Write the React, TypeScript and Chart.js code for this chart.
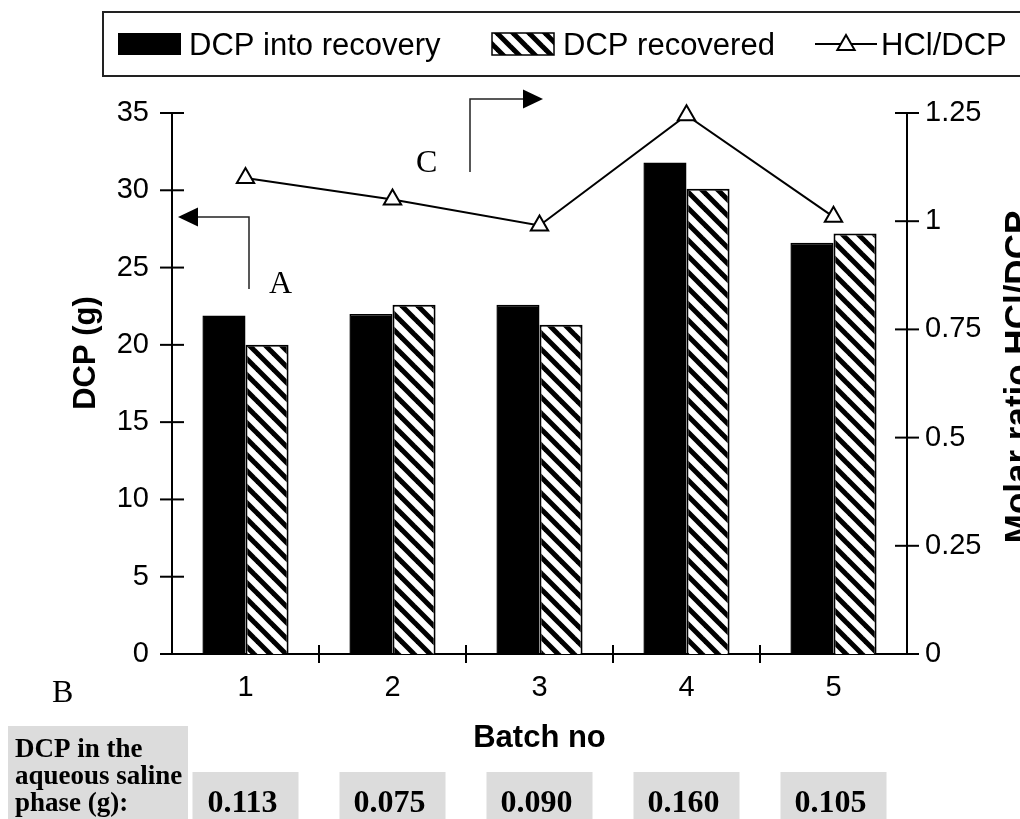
import React, { useEffect, useRef } from 'react';
import { Chart, registerables } from 'chart.js';

Chart.register(...registerables);

const batches = ['1', '2', '3', '4', '5'];
const dcpIntoRecovery = [21.9, 22.0, 22.6, 31.8, 26.6];
const dcpRecovered = [20.0, 22.6, 21.3, 30.1, 27.2];
const hclDcpRatio = [1.1, 1.05, 0.99, 1.245, 1.01];
const salinePhaseValues = ['0.113', '0.075', '0.090', '0.160', '0.105'];
const salineLabelLines = ['DCP in the', 'aqueous saline', 'phase (g):'];
const legendLabels = ['DCP into recovery', 'DCP recovered', 'HCl/DCP'];

const SANS = '"Liberation Sans", Arial, sans-serif';
const SERIF = '"Liberation Serif", "Times New Roman", serif';

function makeHatch(): CanvasPattern | string {
  const c = document.createElement('canvas');
  const s = 16;
  c.width = s;
  c.height = s;
  const g = c.getContext('2d');
  if (!g) return '#fff';
  g.fillStyle = '#fff';
  g.fillRect(0, 0, s, s);
  g.strokeStyle = '#000';
  g.lineWidth = 5;
  for (const o of [-s, 0, s]) {
    g.beginPath();
    g.moveTo(o - 2, -2);
    g.lineTo(o + s + 2, s + 2);
    g.stroke();
  }
  const p = g.createPattern(c, 'repeat');
  return p || '#fff';
}

function line(ctx: CanvasRenderingContext2D, x1: number, y1: number, x2: number, y2: number) {
  ctx.beginPath();
  ctx.moveTo(x1, y1);
  ctx.lineTo(x2, y2);
  ctx.stroke();
}

function triangle(ctx: CanvasRenderingContext2D, x: number, y: number, r: number) {
  ctx.beginPath();
  ctx.moveTo(x, y - r);
  ctx.lineTo(x + r * Math.sin((2 * Math.PI) / 3), y - r * Math.cos((2 * Math.PI) / 3));
  ctx.lineTo(x + r * Math.sin((4 * Math.PI) / 3), y - r * Math.cos((4 * Math.PI) / 3));
  ctx.closePath();
  ctx.fillStyle = '#fff';
  ctx.fill();
  ctx.lineWidth = 2;
  ctx.strokeStyle = '#000';
  ctx.stroke();
}

export default function App() {
  const ref = useRef<HTMLCanvasElement | null>(null);

  useEffect(() => {
    document.body.style.margin = '0';
    const canvas = ref.current;
    if (!canvas) return;
    const hatch = makeHatch();

    const overlay = {
      id: 'overlay',
      afterDraw(chart: any) {
        const ctx: CanvasRenderingContext2D = chart.ctx;
        const ca = chart.chartArea;
        const xs = chart.scales.x;
        const ys = chart.scales.y;
        const y1 = chart.scales.y1;
        ctx.save();
        ctx.strokeStyle = '#000';
        ctx.lineWidth = 2;
        // crossing tick marks
        ys.ticks.forEach((_t: any, i: number) => {
          const py = ys.getPixelForTick(i);
          line(ctx, ca.left - 12, py, ca.left + 12, py);
        });
        y1.ticks.forEach((_t: any, i: number) => {
          const py = y1.getPixelForTick(i);
          line(ctx, ca.right - 12, py, ca.right + 12, py);
        });
        for (let i = 1; i < batches.length; i++) {
          const px = (xs.getPixelForValue(i - 1) + xs.getPixelForValue(i)) / 2;
          line(ctx, px, ca.bottom - 9, px, ca.bottom + 9);
        }

        // axis titles
        ctx.fillStyle = '#000';
        ctx.font = `bold 31px ${SANS}`;
        ctx.textAlign = 'center';
        ctx.textBaseline = 'alphabetic';
        ctx.save();
        ctx.translate(95, 353);
        ctx.rotate(-Math.PI / 2);
        ctx.fillText('DCP (g)', 0, 0);
        ctx.restore();
        ctx.save();
        ctx.font = `bold 35px ${SANS}`;
        ctx.translate(1029, 377);
        ctx.rotate(-Math.PI / 2);
        ctx.fillText('Molar ratio HCl/DCP', 0, 0);
        ctx.restore();
        ctx.fillText('Batch no', (ca.left + ca.right) / 2, 747);

        // legend
        ctx.lineWidth = 2;
        ctx.strokeStyle = '#222';
        ctx.strokeRect(103, 12, 1000, 64);
        ctx.fillStyle = '#000';
        ctx.fillRect(118, 33, 63, 22);
        ctx.fillStyle = hatch as any;
        ctx.fillRect(492, 33, 62, 22);
        ctx.strokeStyle = '#000';
        ctx.lineWidth = 1.5;
        ctx.strokeRect(492, 33, 62, 22);
        ctx.lineWidth = 2;
        line(ctx, 815, 44, 877, 44);
        triangle(ctx, 846, 45, 10);
        ctx.fillStyle = '#000';
        ctx.font = `31px ${SANS}`;
        ctx.textAlign = 'left';
        ctx.fillText(legendLabels[0], 189, 55);
        ctx.fillText(legendLabels[1], 563, 55);
        ctx.fillText(legendLabels[2], 881, 55);

        // annotations
        ctx.strokeStyle = '#222';
        ctx.fillStyle = '#000';
        ctx.lineWidth = 1.5;
        ctx.beginPath();
        ctx.moveTo(249, 289);
        ctx.lineTo(249, 217);
        ctx.lineTo(196, 217);
        ctx.stroke();
        ctx.beginPath();
        ctx.moveTo(178, 217);
        ctx.lineTo(198, 207.5);
        ctx.lineTo(198, 226.5);
        ctx.closePath();
        ctx.fill();
        ctx.beginPath();
        ctx.moveTo(470, 172);
        ctx.lineTo(470, 99);
        ctx.lineTo(525, 99);
        ctx.stroke();
        ctx.beginPath();
        ctx.moveTo(543, 99);
        ctx.lineTo(523, 89.5);
        ctx.lineTo(523, 108.5);
        ctx.closePath();
        ctx.fill();
        ctx.font = `32px ${SERIF}`;
        ctx.textAlign = 'left';
        ctx.fillText('A', 269, 293);
        ctx.fillText('C', 416, 172);
        ctx.fillText('B', 52, 702);

        // bottom table
        ctx.fillStyle = '#dcdcdc';
        ctx.fillRect(8, 726, 180, 93);
        ctx.fillStyle = '#000';
        ctx.font = `bold 27px ${SERIF}`;
        salineLabelLines.forEach((t, i) => ctx.fillText(t, 15, 757 + i * 27));
        ctx.font = `bold 32px ${SERIF}`;
        ctx.textAlign = 'center';
        salinePhaseValues.forEach((t, i) => {
          const cx = xs.getPixelForValue(i);
          ctx.fillStyle = '#dcdcdc';
          ctx.fillRect(cx - 53, 772, 106, 47);
          ctx.fillStyle = '#000';
          ctx.fillText(t, cx - 3, 812);
        });
        ctx.restore();
      },
    };

    const chart = new Chart(canvas, {
      type: 'bar',
      data: {
        labels: batches,
        datasets: [
          {
            type: 'line',
            label: legendLabels[2],
            data: hclDcpRatio,
            yAxisID: 'y1',
            borderColor: '#000',
            borderWidth: 2,
            pointStyle: 'triangle',
            pointRadius: 10,
            pointBackgroundColor: '#fff',
            pointBorderColor: '#000',
            pointBorderWidth: 2,
            tension: 0,
            clip: false,
            order: 0,
          } as any,
          {
            label: legendLabels[0],
            data: dcpIntoRecovery,
            yAxisID: 'y',
            backgroundColor: '#000',
            borderColor: '#000',
            borderWidth: 1.5,
            order: 1,
          },
          {
            label: legendLabels[1],
            data: dcpRecovered,
            yAxisID: 'y',
            backgroundColor: hatch as any,
            borderColor: '#000',
            borderWidth: 2,
            order: 1,
          },
        ],
      },
      options: {
        animation: false,
        responsive: false,
        devicePixelRatio: 1,
        layout: { padding: { left: 0, right: 0, top: 113, bottom: 0 } },
        datasets: {
          bar: { categoryPercentage: 0.586, barPercentage: 1.0 },
        },
        plugins: {
          legend: { display: false },
          tooltip: { enabled: false },
          title: { display: false },
        },
        scales: {
          x: {
            grid: { display: false, drawTicks: false },
            border: { display: true, color: '#000', width: 2 },
            ticks: { color: '#000', font: { family: SANS, size: 29 }, padding: 17 },
            afterFit: (s: any) => {
              s.height = 165;
            },
          },
          y: {
            position: 'left',
            min: 0,
            max: 35,
            grid: { display: false, drawTicks: false },
            border: { display: true, color: '#000', width: 2 },
            ticks: { stepSize: 5, color: '#000', font: { family: SANS, size: 29 }, padding: 23 },
            afterFit: (s: any) => {
              s.width = 172;
            },
          },
          y1: {
            position: 'right',
            min: 0,
            max: 1.25,
            grid: { display: false, drawTicks: false },
            border: { display: true, color: '#000', width: 2 },
            ticks: {
              stepSize: 0.25,
              color: '#000',
              font: { family: SANS, size: 29 },
              padding: 18,
              callback: (v: any) => String(Math.round(Number(v) * 100) / 100),
            },
            afterFit: (s: any) => {
              s.width = 113;
            },
          },
        },
      },
      plugins: [overlay],
    });

    return () => chart.destroy();
  }, []);

  return (
    <div style={{ width: 1020, height: 819, background: '#fff' }}>
      <canvas ref={ref} width={1020} height={819} style={{ display: 'block' }} />
    </div>
  );
}
